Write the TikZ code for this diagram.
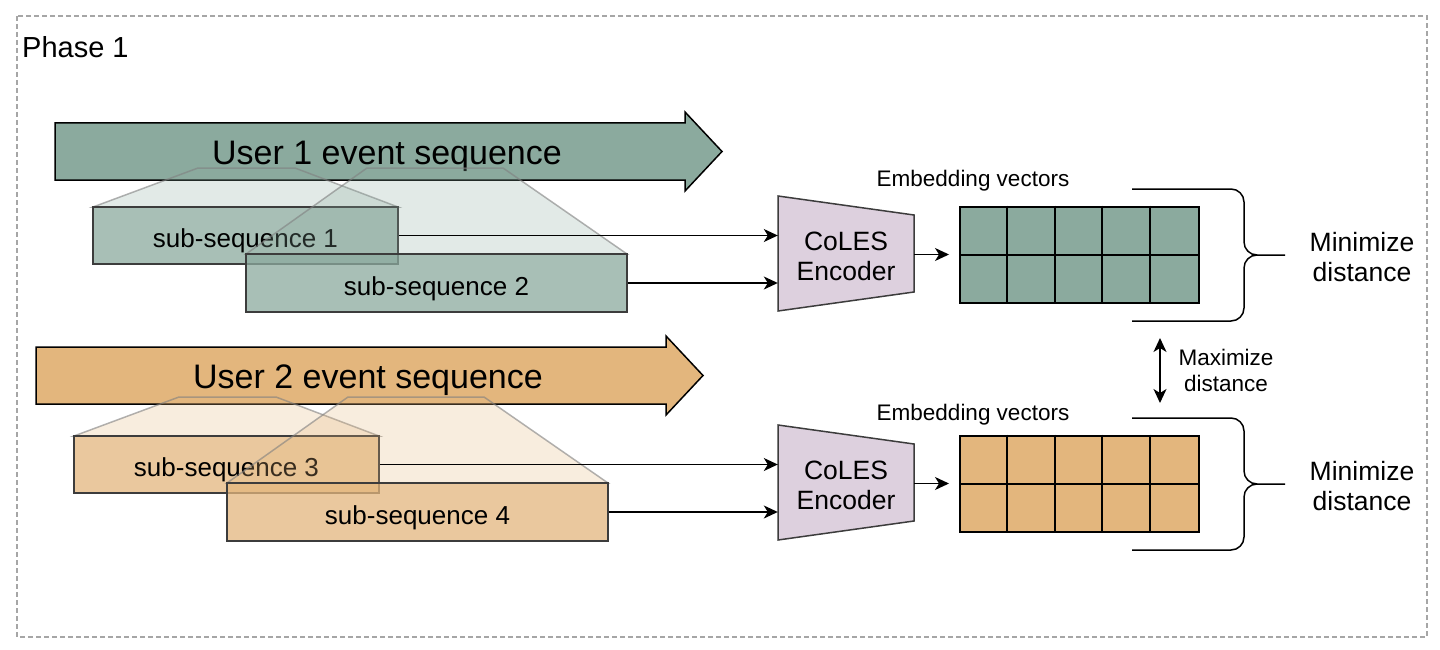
\documentclass[tikz,border=0pt]{standalone}
\usepackage{fontspec}
\setmainfont{Liberation Sans}
\usetikzlibrary{arrows.meta}

\definecolor{seqA}{RGB}{139,170,158}
\definecolor{seqB}{RGB}{227,182,125}
\definecolor{encFill}{RGB}{221,208,222}
\definecolor{edgeGray}{RGB}{60,60,60}

\begin{document}
\begin{tikzpicture}
[x=1pt,y=-1pt,
  seqArrow/.style={draw=black,line width=1.5pt},
  seqLabel/.style={font=\fontsize{34}{40}\selectfont},
  zoomTrap/.style={draw=gray,draw opacity=0.6,fill opacity=0.25,line width=1.5pt},
  subBox/.style={draw=edgeGray,line width=1.5pt,fill opacity=0.75,text opacity=1,
    inner sep=0pt,minimum height=57pt,text height=24pt,text depth=0pt,
    font=\fontsize{26}{30}\selectfont},
  encShape/.style={draw=edgeGray,line width=1.5pt,fill=encFill},
  encLabel/.style={inner sep=0pt,minimum width=136pt,minimum height=115pt,
    align=center,font=\fontsize{26.5}{30}\selectfont},
  vecBox/.style={draw=black,line width=2pt,inner sep=0pt,minimum width=239pt,minimum height=96pt},
  vecLine/.style={black,line width=2pt},
  embLabel/.style={font=\fontsize{22.5}{26}\selectfont},
  flow/.style={-{Stealth[length=14pt,width=13pt,inset=4pt]},line width=1.4pt},
  twoWay/.style={{Stealth[length=14pt,width=13pt,inset=4pt]}-{Stealth[length=14pt,width=13pt,inset=4pt]},line width=1.4pt},
  braceLine/.style={line width=1.5pt,rounded corners=13pt},
  minLabel/.style={align=center,font=\fontsize{26.5}{30}\selectfont},
  maxLabel/.style={align=center,font=\fontsize{22.5}{26}\selectfont}]
\useasboundingbox (0,0) rectangle (1440,650);
%% outer frame
\draw[gray!70,line width=1.3pt,dash pattern=on 5pt off 3pt] (17,16) rectangle (1427,637);
\node[anchor=west,inner sep=0pt,font=\fontsize{29}{34}\selectfont] (phase) at (22,47) {Phase 1};
%% one row per user
\foreach \usr/\a/\b/\col/\dx/\dy/\ay/\ly in {
  1/1/2/seqA/0/0/0/181, 2/3/4/seqB/-19/229/224/415}
{
  % event sequence
  \draw[seqArrow,fill=\col] (55+\dx,123+\ay) -- ++(630,0) -- ++(0,-11) -- ++(37,39.5)
    -- ++(-37,39.5) -- ++(0,-11) -- ++(-630,0) -- cycle;
  \node[seqLabel] (user\usr) at (387+\dx,156+\ay) {User \usr\ event sequence};
  % sub-sequences
  \draw[zoomTrap,fill=\col] (198+\dx,168+\dy) -- (295+\dx,168+\dy) -- (398+\dx,207+\dy)
    -- (93+\dx,207+\dy) -- cycle;
  \node[subBox,fill=\col,minimum width=305pt] (sub\a) at (245.5+\dx,235.5+\dy) {sub-sequence \a};
  \draw[zoomTrap,fill=\col] (367+\dx,168+\dy) -- (503+\dx,168+\dy) -- (627+\dx,254+\dy)
    -- (246+\dx,254+\dy) -- cycle;
  \node[subBox,fill=\col,minimum width=381pt,minimum height=58pt] (sub\b) at (436.5+\dx,283+\dy) {sub-sequence \b};
  % encoder
  \draw[encShape] (778,196+\dy) -- (914,215+\dy) -- (914,292+\dy) -- (778,311+\dy) -- cycle;
  \node[encLabel] (enc\usr) at (846,256+\dy) {CoLES\\Encoder};
  % embedding vectors
  \node[vecBox,fill=\col] (vec\usr) at (1079.5,254.5+\dy) {};
  \foreach \i in {1,...,4}
    \draw[vecLine] (vec\usr.north west) ++(47.8*\i,0) -- ++(0,96);
  \draw[vecLine] (vec\usr.west) -- (vec\usr.east);
  \node[embLabel] (emb\usr) at (973,\ly) {Embedding vectors};
  % connectors
  \draw[flow] (sub\a.east) -- (sub\a.east -| enc\usr.west);
  \draw[flow] (sub\b.east) -- (sub\b.east -| enc\usr.west);
  \draw[flow] (vec\usr.west -| enc\usr.east) -- ([xshift=-10pt]vec\usr.west);
  % brace
  \draw[braceLine] (1132,189+\dy) -| (1244,255+\dy) -- (1285,255+\dy);
  \draw[braceLine] (1132,321+\dy) -| (1244,255+\dy) -- (1257,255+\dy);
  \node[minLabel] (min\usr) at (1362,257+\dy) {Minimize\\distance};
}
%% between the users
\coordinate (gapTop) at (1160,338);
\coordinate (gapBot) at (1160,403);
\draw[twoWay] (gapTop) -- (gapBot);
\node[maxLabel] (max) at (1226,370) {Maximize\\distance};
\end{tikzpicture}
\end{document}
